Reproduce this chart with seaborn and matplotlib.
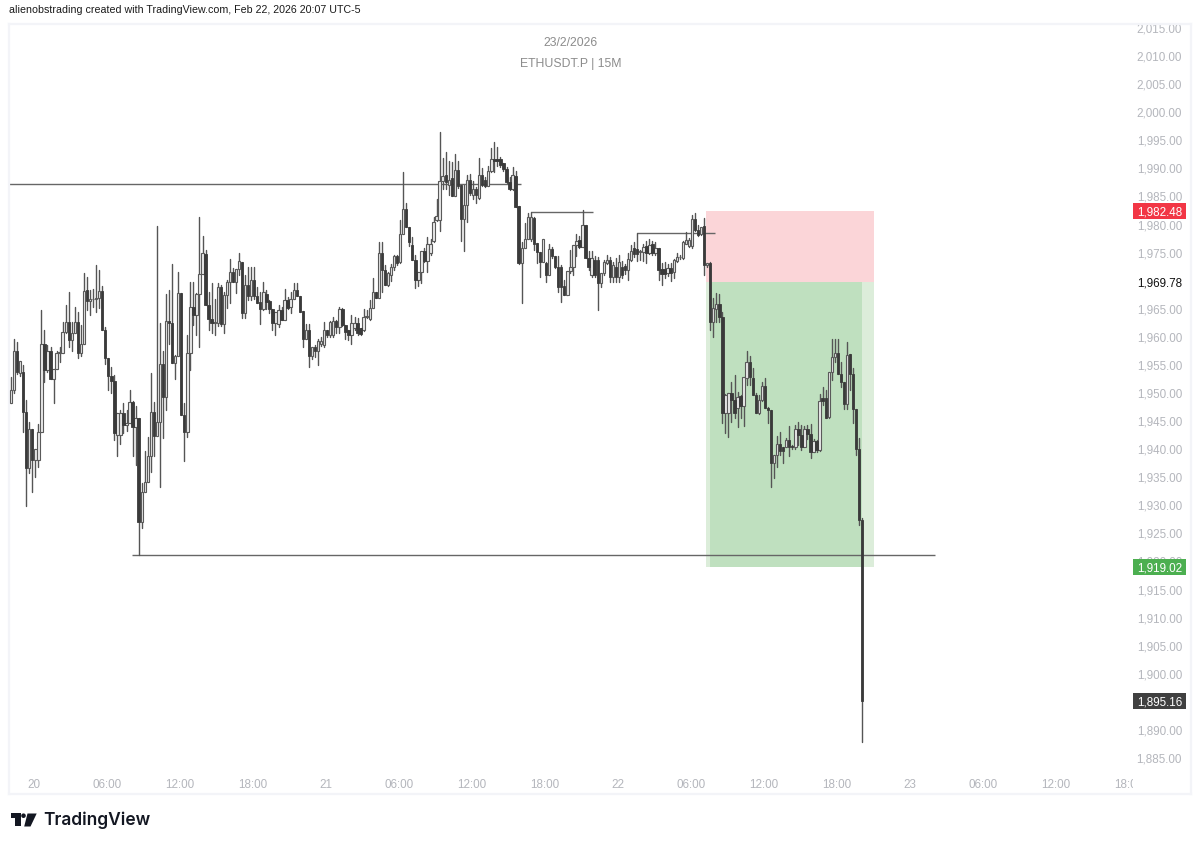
import matplotlib
matplotlib.use("Agg")
import matplotlib.pyplot as plt
from matplotlib.patches import Rectangle, Polygon
from matplotlib.transforms import Affine2D, Bbox
import numpy as np
import pandas as pd
import seaborn as sns

opens = [
1948.3,1950.5,1957.4,1953.6,1953.7,1946.7,1936.6,1943.5,1938.1,1938.1,
1943.1,1958.7,1954.1,1957.4,1952.4,1954.2,1957.2,1957.2,1960.9,1962.7,
1959.5,1960.6,1962.6,1957.1,1958.7,1968.3,1966.3,1966.7,1966.8,1966.9,
1968.2,1961.2,1956.3,1953.0,1952.2,1942.6,1942.6,1946.4,1944.3,1944.6,
1948.4,1943.9,1945.5,1927.0,1932.4,1934.2,1938.8,1946.7,1942.3,1944.8,
1955.1,1949.3,1962.9,1962.5,1955.3,1956.6,1967.8,1946.0,1943.1,1957.1,
1965.4,1963.9,1967.6,1971.2,1974.8,1965.7,1963.2,1962.5,1962.5,1968.8,
1962.3,1967.4,1969.8,1971.6,1969.7,1972.0,1973.4,1964.3,1969.2,1967.2,
1970.2,1967.2,1966.2,1964.9,1967.7,1966.4,1965.0,1962.4,1962.3,1964.8,
1963.0,1966.5,1965.4,1966.8,1968.4,1967.2,1964.6,1959.7,1961.2,1956.6,
1958.2,1957.4,1958.8,1958.6,1961.3,1960.3,1960.3,1962.8,1961.7,1965.0,
1962.1,1961.3,1960.3,1961.5,1962.5,1961.5,1961.2,1963.6,1963.1,1965.1,
1968.0,1966.9,1975.0,1971.9,1969.2,1971.0,1972.5,1974.4,1973.4,1978.3,
1982.7,1979.6,1976.4,1973.7,1970.2,1971.6,1975.3,1973.5,1974.9,1977.1,
1980.8,1980.8,1987.8,1988.8,1987.1,1988.2,1985.1,1989.7,1987.0,1980.9,
1983.5,1988.0,1985.3,1986.4,1984.7,1988.8,1987.9,1986.8,1989.6,1991.6,
1991.6,1991.6,1990.9,1989.8,1987.6,1986.4,1988.6,1983.3,1973.1,1975.9,
1977.5,1977.5,1981.2,1976.7,1975.1,1973.4,1973.2,1971.0,1975.6,1974.4,
1972.4,1972.5,1969.0,1967.4,1971.8,1972.4,1976.3,1977.2,1976.0,1979.9,
1974.0,1971.0,1973.7,1973.7,1969.5,1971.3,1973.2,1973.7,1970.7,1972.5,
1970.7,1972.5,1972.6,1971.9,1973.7,1975.9,1975.7,1975.1,1975.1,1976.1,
1974.9,1976.6,1974.9,1975.9,1972.0,1972.0,1971.3,1972.2,1971.6,1973.5,
1974.2,1974.0,1976.6,1976.2,1976.2,1980.9,1979.1,1978.3,1979.7,1972.8,
1973.2,1962.7,1965.0,1965.8,1963.6,1946.4,1946.4,1950.0,1948.8,1947.4,
1949.4,1947.7,1952.6,1955.5,1952.7,1949.6,1946.4,1948.8,1951.3,1947.3,
1947.0,1937.5,1939.0,1941.0,1940.4,1940.4,1941.7,1940.5,1940.4,1943.5,
1942.6,1940.4,1943.5,1942.7,1939.5,1941.5,1939.8,1949.1,1949.1,1945.7,
1953.7,1956.4,1957.1,1953.4,1952.0,1948.0,1957.0,1953.4,1947.1,1940.0,
1927.4]
closes = [
1950.5,1957.4,1953.8,1955.7,1946.7,1936.6,1943.5,1938.1,1940.1,1943.1,
1958.7,1954.1,1957.4,1952.4,1954.2,1957.2,1957.3,1960.9,1962.7,1959.5,
1960.7,1962.6,1957.1,1958.7,1968.2,1966.3,1966.7,1966.8,1966.9,1968.2,
1961.2,1956.2,1953.0,1952.2,1942.8,1946.4,1946.4,1944.3,1944.7,1948.4,
1943.9,1945.5,1927.0,1932.4,1934.2,1938.8,1946.7,1942.3,1944.8,1955.1,
1949.3,1962.9,1962.5,1955.3,1956.6,1967.8,1946.0,1943.1,1957.1,1965.4,
1963.9,1967.6,1971.2,1974.9,1965.7,1963.2,1962.5,1962.6,1968.8,1962.3,
1967.4,1969.8,1971.6,1969.7,1972.0,1973.5,1964.3,1969.2,1967.2,1970.2,
1967.2,1966.1,1964.9,1967.9,1966.2,1964.9,1962.4,1964.5,1964.8,1963.0,
1966.5,1965.2,1966.8,1968.3,1967.2,1964.5,1959.7,1961.2,1956.6,1958.2,
1957.4,1959.2,1959.2,1961.3,1960.3,1962.7,1962.8,1961.7,1965.0,1962.1,
1960.9,1960.3,1962.4,1962.4,1960.6,1960.5,1963.6,1963.7,1965.1,1968.0,
1966.9,1975.0,1971.9,1969.2,1971.3,1972.5,1974.4,1973.1,1978.3,1982.7,
1979.6,1976.9,1973.7,1970.2,1971.6,1975.3,1973.5,1976.5,1976.5,1980.5,
1981.6,1987.8,1988.6,1987.6,1988.0,1985.1,1989.7,1986.9,1980.9,1983.5,
1988.0,1985.7,1986.4,1985.3,1988.9,1987.0,1986.8,1989.6,1991.6,1991.4,
1991.3,1990.6,1989.8,1987.6,1986.4,1988.8,1983.2,1973.1,1975.8,1977.4,
1981.3,1981.3,1976.6,1975.1,1973.4,1977.5,1971.0,1975.6,1974.4,1972.4,
1968.9,1968.9,1967.4,1971.8,1972.4,1976.3,1977.1,1976.0,1979.9,1974.0,
1972.5,1974.0,1971.0,1969.5,1971.3,1973.4,1973.7,1970.7,1972.8,1970.6,
1973.4,1971.0,1971.9,1973.8,1975.2,1974.7,1974.8,1975.2,1976.0,1974.9,
1976.3,1974.9,1975.9,1971.9,1971.2,1971.2,1972.2,1971.4,1973.7,1974.2,
1974.3,1976.8,1977.3,1977.3,1980.9,1979.1,1978.1,1979.6,1972.8,1973.2,
1962.7,1965.1,1965.8,1963.6,1946.4,1949.6,1950.0,1948.8,1946.4,1949.2,
1947.7,1952.8,1955.5,1952.8,1949.6,1946.4,1948.8,1951.3,1947.3,1946.9,
1937.5,1939.0,1941.0,1939.7,1939.7,1941.7,1940.4,1940.4,1943.5,1942.5,
1940.4,1943.5,1942.7,1939.5,1941.5,1939.8,1948.6,1948.5,1945.5,1953.7,
1956.4,1957.1,1953.4,1952.0,1948.0,1956.8,1953.4,1947.1,1940.0,1927.4,
1895.16]
highs = [
1952.9,1959.7,1959.0,1955.7,1955.0,1948.8,1944.8,1943.5,1940.1,1944.5,
1964.7,1961.2,1958.5,1958.2,1954.2,1957.4,1958.2,1962.7,1965.7,1967.9,
1962.7,1965.4,1964.5,1962.1,1971.4,1970.7,1968.3,1968.6,1972.8,1971.9,
1969.0,1961.8,1956.3,1954.7,1953.2,1946.4,1947.0,1948.3,1947.0,1950.5,
1948.6,1947.7,1945.5,1933.9,1939.6,1942.2,1953.5,1948.4,1979.7,1962.4,
1957.4,1967.7,1968.4,1972.9,1956.8,1971.6,1967.8,1948.3,1960.3,1969.7,
1969.7,1967.8,1981.3,1978.0,1975.5,1968.0,1969.5,1966.8,1969.5,1969.2,
1968.0,1970.1,1973.8,1972.2,1972.0,1975.0,1973.4,1971.0,1972.5,1972.5,
1972.4,1968.9,1967.9,1969.8,1968.3,1966.5,1965.0,1964.5,1965.7,1965.4,
1968.6,1967.1,1968.0,1969.6,1969.6,1967.2,1964.6,1962.3,1962.3,1958.2,
1958.6,1959.7,1960.0,1962.7,1961.3,1962.8,1963.6,1963.0,1965.4,1965.2,
1962.1,1961.3,1963.9,1963.5,1963.3,1961.5,1964.9,1964.8,1966.5,1970.4,
1968.0,1976.9,1976.9,1972.8,1971.5,1973.0,1974.6,1974.6,1980.8,1989.3,
1983.8,1979.6,1977.8,1974.6,1971.6,1975.3,1975.8,1977.7,1977.4,1981.3,
1984.5,1996.4,1991.8,1992.9,1991.4,1991.2,1992.6,1991.4,1987.0,1987.0,
1988.9,1989.0,1987.7,1986.7,1991.8,1990.0,1988.5,1990.4,1993.7,1994.7,
1993.8,1992.1,1991.0,1990.2,1988.5,1990.3,1989.6,1983.3,1976.9,1980.2,
1982.0,1982.3,1981.3,1976.7,1975.1,1977.5,1973.4,1976.6,1976.0,1974.4,
1974.4,1972.8,1970.1,1971.8,1975.5,1976.3,1978.4,1978.0,1982.6,1979.9,
1975.2,1975.2,1974.4,1974.2,1971.3,1973.7,1974.6,1974.2,1973.4,1974.0,
1974.6,1973.5,1973.0,1974.9,1976.4,1976.9,1978.5,1975.5,1976.5,1977.0,
1977.5,1977.0,1976.8,1975.9,1973.1,1973.4,1973.0,1973.2,1973.8,1975.0,
1974.6,1977.0,1978.7,1977.6,1981.7,1982.0,1979.9,1979.6,1981.1,1973.2,
1973.3,1966.9,1967.8,1967.6,1964.5,1949.8,1950.0,1952.0,1953.2,1950.2,
1949.6,1952.8,1957.5,1956.5,1954.4,1950.0,1949.6,1952.0,1952.6,1947.5,
1947.0,1939.0,1942.3,1943.1,1940.4,1942.0,1944.1,1940.8,1944.3,1944.9,
1944.3,1944.1,1944.3,1944.5,1941.8,1941.7,1949.9,1951.1,1950.5,1953.7,
1959.7,1959.7,1959.7,1955.6,1952.0,1959.1,1957.0,1954.4,1947.1,1942.0,
1927.8]
lows = [
1948.3,1950.0,1953.4,1953.0,1943.0,1929.9,1935.7,1932.4,1935.1,1936.8,
1943.0,1952.0,1953.8,1952.4,1948.3,1954.2,1955.6,1957.2,1960.6,1958.2,
1957.4,1960.6,1956.2,1956.6,1958.7,1964.7,1963.9,1965.4,1964.4,1965.1,
1961.2,1955.1,1950.6,1950.0,1941.6,1938.8,1941.0,1942.8,1943.3,1944.6,
1938.8,1937.2,1921.1,1925.9,1932.4,1934.2,1936.0,1938.7,1942.3,1933.3,
1941.9,1947.0,1958.8,1955.3,1952.4,1956.6,1946.0,1937.9,1942.1,1954.1,
1962.1,1960.3,1958.2,1971.2,1965.7,1961.2,1960.6,1960.3,1962.0,1962.0,
1960.6,1965.1,1966.0,1969.7,1967.8,1971.0,1963.3,1963.3,1966.5,1966.5,
1966.8,1966.0,1962.3,1964.8,1965.0,1964.2,1961.2,1960.3,1961.8,1963.0,
1963.0,1965.0,1964.2,1966.8,1967.2,1964.5,1958.2,1959.7,1954.7,1956.0,
1956.4,1955.0,1958.4,1958.2,1960.0,1960.0,1960.0,1960.7,1960.6,1962.0,
1959.7,1959.4,1958.8,1961.3,1960.3,1960.3,1961.0,1963.4,1963.0,1965.1,
1966.9,1966.9,1968.0,1969.2,1969.0,1970.0,1971.9,1972.8,1973.1,1978.3,
1979.6,1976.2,1973.7,1968.7,1969.0,1969.5,1973.3,1971.6,1974.5,1976.9,
1980.6,1978.8,1986.4,1986.4,1985.3,1985.0,1985.1,1986.5,1977.0,1975.3,
1980.5,1985.3,1984.6,1983.8,1984.5,1986.9,1986.7,1986.8,1989.4,1989.4,
1990.4,1990.3,1989.5,1987.4,1986.1,1986.2,1983.2,1973.0,1966.0,1975.8,
1977.4,1977.0,1975.5,1973.1,1970.7,1973.4,1969.8,1971.0,1974.0,1972.2,
1967.9,1966.2,1967.4,1967.4,1971.3,1971.0,1974.4,1975.8,1976.0,1974.0,
1971.9,1970.7,1970.7,1964.8,1968.9,1971.0,1973.0,1969.8,1969.8,1969.8,
1969.8,1970.5,1971.2,1970.1,1973.5,1974.2,1973.5,1973.7,1973.5,1973.2,
1974.7,1974.5,1974.5,1970.1,1969.2,1970.4,1970.9,1970.0,1970.4,1973.4,
1973.9,1973.9,1976.5,1976.0,1975.9,1978.9,1978.0,1978.2,1971.0,1972.5,
1961.2,1959.9,1962.7,1962.7,1944.7,1942.8,1942.1,1944.9,1945.5,1944.0,
1945.5,1944.1,1951.5,1951.4,1949.6,1946.4,1946.2,1948.6,1947.3,1944.7,
1933.3,1934.8,1936.9,1939.0,1937.6,1940.3,1938.8,1940.0,1940.0,1940.7,
1939.8,1940.4,1941.8,1938.5,1939.4,1939.4,1939.6,1947.8,1945.5,1945.6,
1952.3,1955.5,1953.4,1951.0,1947.1,1947.1,1950.5,1944.7,1939.0,1926.5,
1887.8]

price_ticks = list(range(1885, 2020, 5))
time_labels = ["20","06:00","12:00","18:00","21","06:00","12:00","18:00",
               "22","06:00","12:00","18:00","23","06:00","12:00","18:00"]
first_day_bar = 8.6
bars_per_label = 24
header = "alienobstrading created with TradingView.com, Feb 22, 2026 20:07 UTC-5"
title_date = "23/2/2026"
title_symbol = "ETHUSDT.P | 15M"
entry_price, stop_price, target_price, last_price = 1969.78, 1982.48, 1919.02, 1895.16
levels = [(0.342, 168.8, 1987.2), (40.8, 304.8, 1921.1), (172.0, 192.4, 1982.2), (206.9, 232.6, 1978.5)]
box_start, box_end, box_fill_start, box_fill_end = 229.6, 285.0, 230.9, 281.0

sns.set_theme(style="white")
plt.rcParams["font.family"] = ["Liberation Sans", "DejaVu Sans"]

W, H = 1200, 847
fig = plt.figure(figsize=(W/100, H/100), dpi=100, facecolor="white")
L, R, T, B = 9, 1191, 24, 794
ax = fig.add_axes([L/W, 1-B/H, (R-L)/W, (B-T)/H])
to_bar = lambda px: 1 + (px-11)/3.04
to_price = lambda py: 2015 - (py-28)/5.615
ax.set_xlim(to_bar(L), to_bar(R))
ax.set_ylim(to_price(B), to_price(T))
for s in ax.spines.values():
    s.set_color("#f3f4f8"); s.set_linewidth(1.6)

# position box
ax.add_patch(Rectangle((box_start, entry_price), box_end-box_start, stop_price-entry_price,
                       fc="#fbd5d8", ec="none", zorder=1))
ax.add_patch(Rectangle((box_start, target_price), box_end-box_start, entry_price-target_price,
                       fc="#dcedda", ec="none", zorder=1))
ax.add_patch(Rectangle((box_fill_start, target_price), box_fill_end-box_fill_start, entry_price-target_price,
                       fc="#bfe0bf", ec="none", zorder=1.1))

# horizontal levels
for x0, x1, p in levels:
    ax.hlines(p, x0, x1, color="#666666", lw=1.0, zorder=2)

# candles
n = len(closes)
bars = np.arange(1, n+1)
df = pd.DataFrame({"bar": bars, "open": opens, "close": closes, "high": highs, "low": lows})
wicks = df.melt(id_vars="bar", value_vars=["high", "low"], value_name="price").sort_values(["bar", "price"])
sns.lineplot(data=wicks, x="bar", y="price", units="bar", estimator=None, color="#555555",
             lw=1.0, legend=False, ax=ax, zorder=3)
up = df[df.close >= df.open]
dn = df[df.close < df.open]
ax.bar(up.bar, up.close-up.open, bottom=up.open, width=0.78, color="#e9e9e9", edgecolor="#5a5a5a", linewidth=0.8, zorder=4)
ax.bar(dn.bar, dn.close-dn.open, bottom=dn.open, width=0.78, color="#3a3a3a", edgecolor="#3a3a3a", linewidth=0.6, zorder=4)
ax.set_xlabel(""); ax.set_ylabel("")

# axes labels inside the frame
tick_col = "#b4b6bc"
ax.yaxis.tick_right()
ax.set_yticks(price_ticks)
ax.set_yticklabels([f"{p:,.2f}" for p in price_ticks], ha="right", color=tick_col, fontsize=8.4)
ax.tick_params(axis="y", length=0, pad=-6.5)
ax.set_xticks([first_day_bar + bars_per_label*k for k in range(len(time_labels))])
ax.set_xticklabels(time_labels, color=tick_col, fontsize=8.4)
ax.tick_params(axis="x", length=0, pad=-11)
ax.set_xlim(to_bar(L), to_bar(R))
clip = Bbox([[0, 0], [1133, H]])
for lab in ax.get_xticklabels():
    lab.set_clip_box(clip); lab.set_clip_on(True)

# price tags
tags = [(stop_price, "#f23645", "white"), (entry_price, "white", "#111111"),
        (target_price, "#4caf50", "white"), (last_price, "#404040", "white")]
for p, bg, fg in tags:
    ax.add_patch(Rectangle((to_bar(1133), p-1.42), to_bar(1186)-to_bar(1133), 2.84, fc=bg, ec="none", zorder=6))
    ax.text(to_bar(1182), p, f"{p:,.2f}", ha="right", va="center_baseline", color=fg, fontsize=8.4, zorder=7)

# texts
fig.text(9/W, 1-10/H, header, ha="left", va="center", fontsize=7.7, color="#1a1a1a")
fig.text(571/W, 1-43.5/H, title_date, ha="center", va="center", fontsize=8.8, color="#8c8c8c")
fig.text(571/W, 1-63.5/H, title_symbol, ha="center", va="center", fontsize=8.8, color="#8c8c8c")

# logo
pix = Affine2D().scale(1/W, -1/H).translate(0, 1) + fig.transFigure
for pts in ([(10.7, 813.5), (20.7, 813.5), (20.7, 826.5), (15.4, 826.5), (15.4, 818), (10.7, 818)],
            [(27.5, 813.5), (36.7, 813.5), (30.5, 826.5), (24.2, 826.5)]):
    fig.add_artist(Polygon(pts, closed=True, fc="#131722", ec="none", transform=pix))
fig.add_artist(Polygon([(23.5+2.3*np.cos(t), 815.7+2.3*np.sin(t)) for t in np.linspace(0, 6.28, 24)],
                       closed=True, fc="#131722", ec="none", transform=pix))
fig.text(43.5/W, 1-820.5/H, "TradingView", ha="left", va="center", fontsize=12.5, fontweight="semibold",
         family="Inter", color="#131722")

fig.savefig("out.png", dpi=100)
